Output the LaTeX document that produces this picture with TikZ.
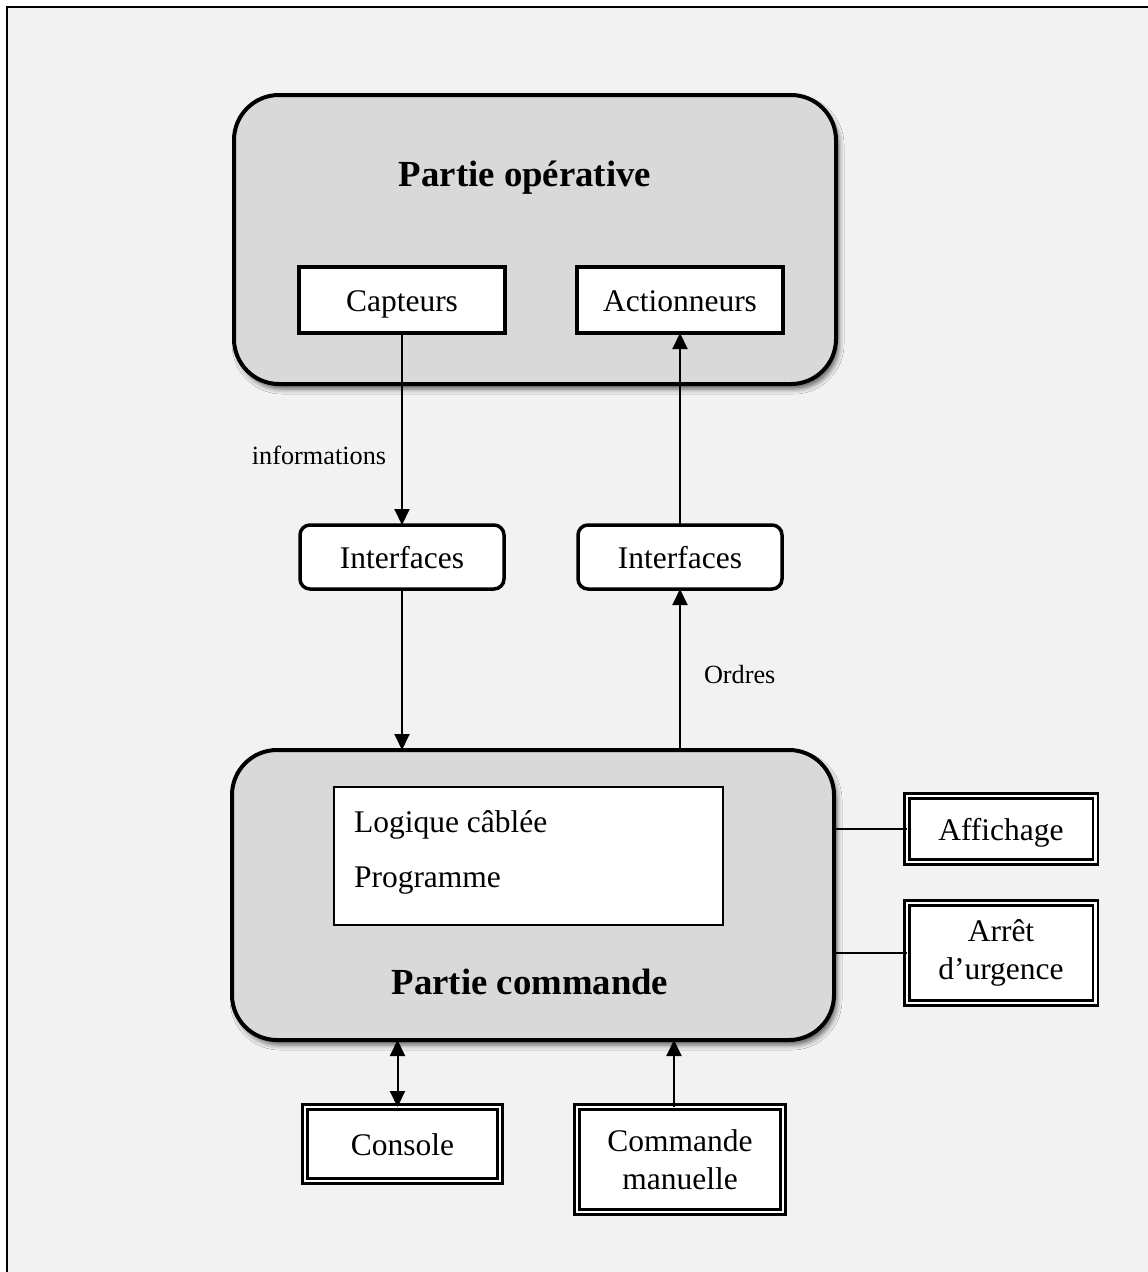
\documentclass[tikz,border=0pt]{standalone}
\usepackage{fontspec}
\setmainfont{Liberation Serif}
\usetikzlibrary{arrows.meta,shadows.blur,calc}
\definecolor{pagebg}{HTML}{F2F2F2}
\definecolor{partfill}{HTML}{D9D9D9}

\begin{document}
\begin{tikzpicture}[x=1pt,y=-1pt,
  every node/.style={inner sep=0pt, outer sep=0pt},
  normaltxt/.style={font=\fontsize{31.5}{38}\selectfont},
  titletxt/.style={font=\fontsize{36.75}{44}\selectfont\bfseries},
  smalltxt/.style={font=\fontsize{26.25}{31}\selectfont},
  oneline/.style={text height=22pt, text depth=0pt},
  part/.style={draw, line width=4pt, fill=partfill, rounded corners=45pt,
    minimum width=602pt,
    blur shadow={shadow xshift=3pt, shadow yshift=-5pt,
      shadow blur radius=5pt, shadow opacity=60}},
  plainbox/.style={normaltxt, oneline, draw, fill=white, line width=4pt,
    minimum width=206pt, minimum height=66pt},
  ifbox/.style={normaltxt, oneline, draw, fill=white, line width=3.5pt,
    rounded corners=10pt, minimum width=204pt, minimum height=64pt},
  dblbox/.style={normaltxt, draw, fill=white, line width=2.5pt,
    double=white, double distance=2.5pt, minimum width=188.5pt},
  tip/.tip={Triangle[length=16pt,width=15pt]},
  flow/.style={line width=2pt, -tip},
  both/.style={line width=2pt, tip-tip},
  link/.style={line width=2pt}
]
\clip (0,0) rectangle (1148,1272);

% page background and frame
\fill[white] (0,0) rectangle (1148,1272);
\fill[pagebg] (7,7) rectangle (1160,1290);
\draw[line width=2pt] (1160,7) -- (7,7) -- (7,1290);

% operative part
\node[part, minimum height=289pt] (po) at (535,239.5) {};
\node[titletxt, anchor=base] (potitle) at (525,186) {Partie opérative};
\node[plainbox] (capt) at (402,300) {Capteurs};
\node[plainbox] (act) at (680,300) {Actionneurs};

% interfaces
\node[ifbox] (ifl) at (402,557) {Interfaces};
\node[ifbox] (ifr) at (680,557) {Interfaces};

% control part
\node[part, minimum height=290pt] (pc) at (533,895) {};
\node[draw, fill=white, line width=2.5pt, minimum width=389pt,
  minimum height=138pt] (logic) at (528.5,856) {};
\node[normaltxt, anchor=base west] (logtxt) at (354,832) {Logique câblée};
\node[normaltxt, anchor=base west] (progtxt) at (354,887) {Programme};
\node[titletxt, anchor=base] (pctitle) at (530,994) {Partie commande};

% peripherals
\node[dblbox, oneline, minimum height=66pt] (aff) at (1001,829) {Affichage};
\node[dblbox, minimum height=100pt, align=center] (arret) at (1001,953) {Arrêt\\d’urgence};
\node[dblbox, oneline, minimum width=195pt, minimum height=74pt] (cons) at (402.5,1144) {Console};
\node[dblbox, minimum width=206pt, minimum height=105pt, align=center] (cmd) at (680,1159.5) {Commande\\manuelle};

% information and order flows
\draw[flow] (capt) -- (ifl);
\draw[flow] (ifl) -- (ifl |- pc.north);
\draw[flow] (ifr |- pc.north) -- (ifr);
\draw[flow] (ifr) -- (act);
\node[smalltxt, anchor=base] (info) at (319,464) {informations};
\node[smalltxt, anchor=base west] (ordres) at (704,683) {Ordres};

% links to peripherals
\draw[link] (aff.west -| pc.east) -- (aff.west);
\draw[link] (arret.west -| pc.east) -- (arret.west);
\draw[both] ([xshift=-5pt]cons.north) -- ([xshift=-5pt]cons.north |- pc.south);
\draw[flow] ([xshift=-6pt]cmd.north) -- ([xshift=-6pt]cmd.north |- pc.south);
\end{tikzpicture}
\end{document}
